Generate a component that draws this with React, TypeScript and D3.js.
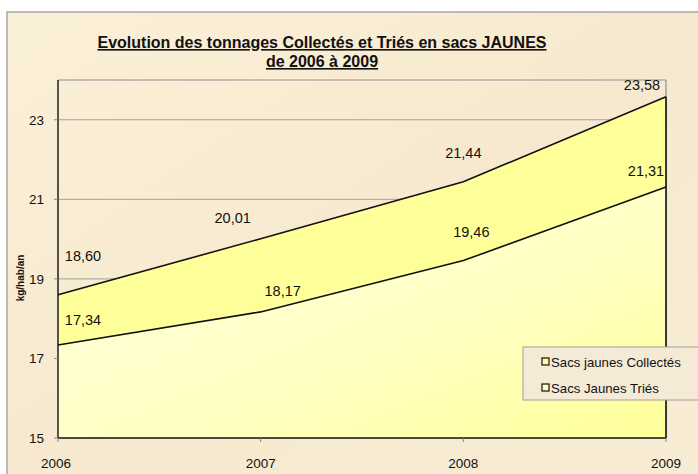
import React from "react";
import * as d3 from "d3";

const years = [2006, 2007, 2008, 2009];
const collectes = [18.6, 20.01, 21.44, 23.58];
const tries = [17.34, 18.17, 19.46, 21.31];
const yTicks = [15, 17, 19, 21, 23];
const seriesNames = ["Sacs jaunes Collectés", "Sacs  Jaunes Triés"];

// label offsets (styling)
const offC = [[25, -34], [-28, -16], [0, -24], [-24, -7]];
const offT = [[25, -20], [22, -16], [8, -24], [-20, -11]];

const W = 698, H = 474;
const L = 58, R = 666, T = 80, B = 438;

export default function App() {
  const x = d3.scaleLinear().domain([2006, 2009]).range([L, R]);
  const y = d3.scaleLinear().domain([15, 24]).range([B, T]);
  const fmt = (v: number) => v.toFixed(2).replace(".", ",");

  const upper = d3
    .area<number>()
    .x((_, i) => x(years[i]))
    .y0((_, i) => y(tries[i]))
    .y1((d) => y(d));
  const lower = d3
    .area<number>()
    .x((_, i) => x(years[i]))
    .y0(() => y(15))
    .y1((d) => y(d));
  const line = d3
    .line<number>()
    .x((_, i) => x(years[i]))
    .y((d) => y(d));

  const font = "Liberation Sans, Arial, sans-serif";

  return (
    <svg
      width={W}
      height={H}
      style={{ position: "absolute", left: 0, top: 0 }}
      fontFamily={font}
    >
      <defs>
        <linearGradient id="bg" x1="0" y1="0" x2="1" y2="1">
          <stop offset="0" stopColor="#fbf0d8" />
          <stop offset="0.5" stopColor="#f6e9cf" />
          <stop offset="1" stopColor="#f8ecd4" />
        </linearGradient>
        <linearGradient id="low" x1="0" y1="0" x2="1" y2="1">
          <stop offset="0" stopColor="#ffffe0" />
          <stop offset="0.6" stopColor="#ffffc2" />
          <stop offset="1" stopColor="#ffff99" />
        </linearGradient>
      </defs>
      <rect x={0} y={0} width={W} height={H} fill="#ffffff" />
      <rect x={7} y={12} width={W} height={H} fill="url(#bg)" stroke="#a8a8a8" strokeWidth={1.5} />

      <text x={322} y={48} textAnchor="middle" fontSize={16} fontWeight="bold" fill="#111" textDecoration="underline">
        Evolution des tonnages Collectés et Triés en sacs JAUNES
      </text>
      <text x={322} y={67} textAnchor="middle" fontSize={16} fontWeight="bold" fill="#111" textDecoration="underline">
        de 2006 à 2009
      </text>

      {/* gridlines */}
      {yTicks.filter((t) => t > 15).map((t) => (
        <line key={t} x1={L} x2={R} y1={y(t)} y2={y(t)} stroke="#a0a0a0" strokeWidth={1} />
      ))}
      <line x1={L} x2={R} y1={T} y2={T} stroke="#909090" strokeWidth={1.2} />
      <line x1={R} x2={R} y1={T} y2={B} stroke="#909090" strokeWidth={1.2} />

      <path d={upper(collectes) || ""} fill="#ffff99" />
      <path d={lower(tries) || ""} fill="url(#low)" />
      <path d={line(collectes) || ""} fill="none" stroke="#111" strokeWidth={1.6} />
      <path d={line(tries) || ""} fill="none" stroke="#111" strokeWidth={1.6} />
      <line x1={R} x2={R} y1={y(collectes[3])} y2={B} stroke="#111" strokeWidth={1.6} />

      {/* axes */}
      <line x1={L} x2={L} y1={T} y2={B} stroke="#111" strokeWidth={1.4} />
      <line x1={L} x2={R} y1={B} y2={B} stroke="#111" strokeWidth={1.4} />
      {yTicks.map((t) => (
        <g key={t}>
          <line x1={L - 4} x2={L} y1={y(t)} y2={y(t)} stroke="#888" />
          <text x={L - 14} y={y(t) + 5} textAnchor="end" fontSize={13.5} fill="#111">
            {t}
          </text>
        </g>
      ))}
      {years.map((yr) => (
        <g key={yr}>
          <line x1={x(yr)} x2={x(yr)} y1={B} y2={B + 4} stroke="#888" />
          <text x={x(yr) - (yr === 2006 ? 2 : 0)} y={B + 30} textAnchor="middle" fontSize={13.5} fill="#111">
            {yr}
          </text>
        </g>
      ))}
      <text
        transform={`translate(24, ${278}) rotate(-90)`}
        textAnchor="middle"
        fontSize={10}
        fontWeight="bold"
        fill="#111"
      >
        kg/hab/an
      </text>

      {/* value labels */}
      {collectes.map((v, i) => (
        <text key={"c" + i} x={x(years[i]) + offC[i][0]} y={y(v) + offC[i][1]} textAnchor="middle" fontSize={14.5} fill="#111">
          {fmt(v)}
        </text>
      ))}
      {tries.map((v, i) => (
        <text key={"t" + i} x={x(years[i]) + offT[i][0]} y={y(v) + offT[i][1]} textAnchor="middle" fontSize={14.5} fill="#111">
          {fmt(v)}
        </text>
      ))}

      {/* legend */}
      <rect x={523} y={347} width={176} height={53} fill="#f4ead6" stroke="#a0a0a0" strokeWidth={1} />
      {seriesNames.map((n, i) => (
        <g key={n}>
          <rect x={542} y={358 + i * 26} width={7} height={7} fill={i === 0 ? "#ffff99" : "#ffffc2"} stroke="#111" strokeWidth={1.2} />
          <text x={551} y={367 + i * 26} fontSize={13.2} fill="#111">
            {n}
          </text>
        </g>
      ))}
    </svg>
  );
}
